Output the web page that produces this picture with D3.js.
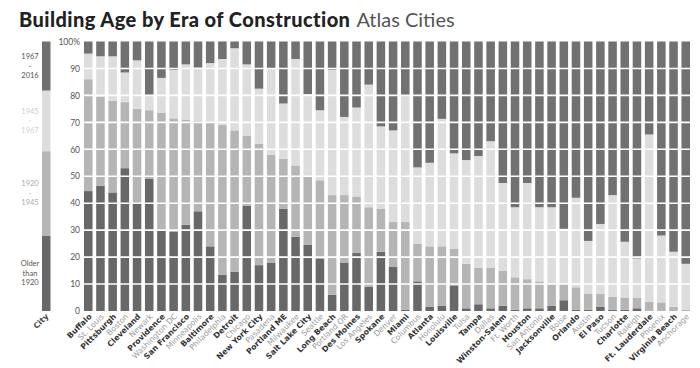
<!DOCTYPE html>
<html><head><meta charset="utf-8">
<script src="https://cdn.jsdelivr.net/npm/d3@7"></script>
<style>
html,body{margin:0;padding:0;background:#fff;}
svg{display:block;}
</style></head>
<body><svg id="c" width="700" height="368"></svg>
<script>
const cities = ["Buffalo","St. Louis","Pittsburgh","Boston","Cleveland","Newark","Providence","Washington DC","San Francisco","Minneapolis","Baltimore","Philadelphia","Detroit","Chicago","New York City","Pasadena","Portland ME","Milwaukee","Salt Lake City","Seattle","Long Beach","Portland OR","Des Moines","Los Angeles","Spokane","Denver","Miami","Columbus","Atlanta","Honolulu","Louisville","Tulsa","Tampa","Dallas","Winston-Salem","Ft. Worth","Houston","San Antonio","Jacksonville","Boise","Orlando","Austin","El Paso","Tucson","Charlotte","Raleigh","Ft. Lauderdale","Phoenix","Virginia Beach","Anchorage"];
const olderThan1920 = [44.5,46.5,44,53,40,49,30,29.5,32,37,24,13.5,14.5,39,17,18,38,27.5,24.5,19.5,6,18,21.5,9,22,16.5,0.5,11,1.5,2,9.5,1,2.5,1,2,0.5,1,1,2,4,0.5,0.5,1.5,0.5,0.5,1,0,0,0,0];
const era1920to1945 = [41.5,33,34,24.5,35,25.5,43.5,42,39,33.5,46,55.5,52.5,26,45,40,18.5,26.5,25.5,29,37,25,21,29.5,16,16.5,32.5,14,22.5,22,13.5,16.5,13.5,15,13,12,10.8,10,8,6,8.3,6,4.8,4.8,4.5,4,3.5,3.2,1.5,0.5];
const era1945to1967 = [9.5,15,16.5,11,18,5.5,13,18,20.5,19.8,22,24.5,30.5,26.5,20.5,32,20.5,39.5,30.5,26,46.5,29,33,45.5,30.5,34,47,28.3,31,47.3,35.5,38.5,41.5,47,32.5,26,35.7,27.5,28.5,20.5,33.2,19.5,26,37.7,20.7,14.5,62,24.8,20.5,17];
const era1967to2016 = [4.5,5.5,5.5,11.5,7,20,13.5,10.5,8.5,9.7,8,6.5,2.5,8.5,17.5,10,23,6.5,19.5,25.5,10.5,28,24.5,16,31.5,33,20,46.7,45,28.7,41.5,44,42.5,37,52.5,61.5,52.5,61.5,61.5,69.5,58,74,67.7,57,74.3,80.5,34.5,72,78,82.5];
const eraKeys = ["older","e1920","e1945","e1967"];
const eraLabels = [["Older","than","1920"],["1920","-","1945"],["1945","-","1967"],["1967","-","2016"]];
const legendShares = [28, 31.3, 22.5, 18.2];
const yTicks = [0,10,20,30,40,50,60,70,80,90,100];

const colors = {older:"#686868", e1920:"#b5b5b5", e1945:"#dddddd", e1967:"#717171"};
const legendTextColors = ["#555","#aaa","#cfcfcf","#555"];

const rows = cities.map((c,i)=>({city:c, older:olderThan1920[i], e1920:era1920to1945[i], e1945:era1945to1967[i], e1967:era1967to2016[i]}));
const series = d3.stack().keys(eraKeys)(rows);

const svg = d3.select("#c");
const y = d3.scaleLinear().domain([0,100]).range([311,41.5]);
const x = d3.scaleBand().domain(cities).range([84,690]).paddingInner(0.3).paddingOuter(0);

// title
const title = svg.append("text").attr("x",19).attr("y",27)
  .style("font-family","Lato").style("font-size","20px");
title.append("tspan").attr("font-weight",900).attr("fill","#222").style("letter-spacing","0.43px").text("Building Age by Era of Construction");
title.append("tspan").attr("font-weight",400).attr("fill","#555").attr("dx",6).style("letter-spacing","0px").text("Atlas Cities");

// bars
svg.append("g").selectAll("g").data(series).join("g")
  .attr("fill",d=>colors[d.key])
  .selectAll("rect").data(d=>d).join("rect")
  .attr("x",d=>x(d.data.city)).attr("width",x.bandwidth())
  .attr("y",d=>y(d[1])).attr("height",d=>Math.max(0,y(d[0])-y(d[1])));

// white gridlines over bars
svg.append("g").selectAll("line").data(yTicks.filter(t=>t>0&&t<100)).join("line")
  .attr("x1",82).attr("x2",692).attr("y1",d=>y(d)).attr("y2",d=>y(d))
  .attr("stroke","#fff").attr("stroke-width",1.6);

// y axis labels
const yAxis = d3.axisLeft(y).tickValues(yTicks).tickSize(0).tickPadding(0)
  .tickFormat(d=>d===100?"100%":String(d));
const ya = svg.append("g").attr("transform","translate(80,0)").call(yAxis);
ya.select(".domain").remove();
ya.selectAll("text").style("font-family","Lato").style("font-size","8.5px").attr("fill","#555");

// legend bar
const legendStack = [];
let acc=0;
legendShares.forEach((v,i)=>{legendStack.push([acc,acc+v]); acc+=v;});
const lg = svg.append("g");
lg.selectAll("rect").data(legendStack).join("rect")
  .attr("x",42).attr("width",8.5)
  .attr("y",d=>y(d[1])).attr("height",d=>y(d[0])-y(d[1]))
  .attr("fill",(d,i)=>colors[eraKeys[i]]);
legendStack.forEach((d,i)=>{
  const cy = (y(d[0])+y(d[1]))/2;
  const lines = eraLabels[i];
  const t = lg.append("text").attr("text-anchor","middle")
    .style("font-family","Lato").style("font-size","7.5px").attr("fill",legendTextColors[i]);
  lines.forEach((l,j)=>{
    t.append("tspan").attr("x",30).attr("y",cy+(j-1)*9.5+2.5).text(l);
  });
});
lg.append("text").attr("transform","translate(49,317) rotate(-45)").attr("text-anchor","end")
  .style("font-family","DejaVu Sans").style("font-size","7.8px").attr("font-weight",700).attr("fill","#444").text("City");

// x labels
svg.append("g").selectAll("text").data(cities).join("text")
  .attr("transform",d=>`translate(${x(d)+x.bandwidth()/2+4},317) rotate(-45)`)
  .attr("text-anchor","end")
  .style("font-family","DejaVu Sans").style("font-size","7.8px")
  .attr("font-weight",(d,i)=>i%2===0?700:400)
  .attr("fill",(d,i)=>i%2===0?"#333":"#999")
  .text(d=>d);
</script></body></html>
